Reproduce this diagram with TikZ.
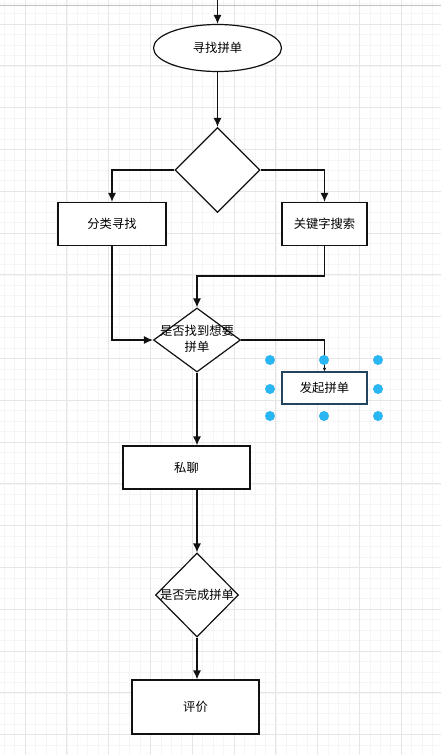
\documentclass[tikz,border=0pt]{standalone}
\usepackage{fontspec}
\newfontfamily\cjk{Noto Sans CJK SC}
\usepackage{tikz}
\usetikzlibrary{arrows.meta,calc,positioning,shapes.geometric}
\definecolor{Ink}{HTML}{111111}
\definecolor{GridMinor}{HTML}{F5F5F5}
\definecolor{GridMajor}{HTML}{E6E6E6}
\definecolor{SelBlue}{HTML}{29B6F2}
\definecolor{SelEdge}{HTML}{23445D}
\tikzset{
  every picture/.style={line width=1.2pt},
  flowbox/.style={
    draw=Ink,
    fill=white,
    font=\cjk\fontsize{12.3}{16}\selectfont,
    align=center,
    inner sep=0pt
  },
  startbox/.style={flowbox, ellipse, minimum width=128pt, minimum height=47pt},
  procbox/.style={flowbox, rectangle},
  decbox/.style={flowbox, diamond, aspect=1},
  pickbox/.style={procbox, draw=SelEdge},
  dectext/.style={font=\cjk\fontsize{12.3}{16}\selectfont, align=center, inner sep=0pt},
  flowarrow/.style={-{Latex[length=9pt,width=8pt]}, draw=Ink},
  tinyarrow/.style={-{Latex[length=3.5pt,width=3.5pt]}, draw=Ink},
  handle/.style={circle, fill=SelBlue, minimum size=10pt, inner sep=0pt}
}

\begin{document}
\begin{tikzpicture}[x=1pt,y=-1pt]
  \useasboundingbox (0,0) rectangle (441,755);
  \fill[white] (0,0) rectangle (441,755);

  % canvas grid
  \begin{scope}
    \clip (0,0) rectangle (441,755);
    \foreach \k in {-3,...,42}
      \draw[GridMinor, line width=0.6pt] ({25+10.45*\k},0) -- ({25+10.45*\k},755);
    \foreach \k in {-3,...,72}
      \draw[GridMinor, line width=0.6pt] (0,{24+10.45*\k}) -- (441,{24+10.45*\k});
    \foreach \k in {-1,...,10}
      \draw[GridMajor, line width=0.7pt] ({25+41.8*\k},0) -- ({25+41.8*\k},755);
    \foreach \k in {-1,...,18}
      \draw[GridMajor, line width=0.7pt] (0,{24+41.8*\k}) -- (441,{24+41.8*\k});
    \draw[black!25, line width=0.7pt] (0,5) -- (441,5);
  \end{scope}

  \coordinate (entry) at (217.5,0);
  \node[startbox] (seek) at (217.5,48) {寻找拼单};
  \node[decbox, minimum width=85pt, minimum height=85pt] (route) at (217.5,170) {};
  \node[procbox, minimum width=108pt, minimum height=43pt] (bycat) at (112,224) {分类寻找};
  \node[procbox, minimum width=85pt, minimum height=43pt] (bykey) at (324.5,224) {关键字搜索};
  \coordinate (merge) at (197,276);
  \node[decbox, minimum width=87pt, minimum height=64pt] (found) at (197,340) {};
  \node[dectext] (foundtxt) at (197,339) {是否找到想要\\拼单};
  \node[pickbox, minimum width=85pt, minimum height=32pt] (launch) at (324.5,388) {发起拼单};
  \node[procbox, minimum width=127pt, minimum height=43pt] (chat) at (186.5,467.5) {私聊};
  \node[decbox, minimum width=83pt, minimum height=84pt] (done) at (197,595) {};
  \node[dectext] (donetxt) at (197,595) {是否完成拼单};
  \node[procbox, minimum width=127pt, minimum height=54pt] (rate) at (195.5,707) {评价};

  \draw[flowarrow] (entry) -- (seek.north);
  \draw[flowarrow] (seek.south) -- (route.north);
  \draw[flowarrow] (route.west) -| (bycat.north);
  \draw[flowarrow] (route.east) -| (bykey.north);
  \draw[flowarrow] (bycat.south) |- (found.west);
  \draw[flowarrow] (bykey.south) |- (merge) -- (found.north);
  \draw[tinyarrow] (found.east) -| (launch.north);
  \draw[flowarrow] (found.south) -- (found.south |- chat.north);
  \draw[flowarrow] (found.south |- chat.south) -- (done.north);
  \draw[flowarrow] (done.south) -- (done.south |- rate.north);

  % selection handles round the picked box
  \foreach \hx/\hy [count=\n] in {270/360, 324/360, 378/360, 270/389, 378/389, 270/416, 324/416, 378/416}
    \node[handle] (h\n) at (\hx,\hy) {};
\end{tikzpicture}
\end{document}
